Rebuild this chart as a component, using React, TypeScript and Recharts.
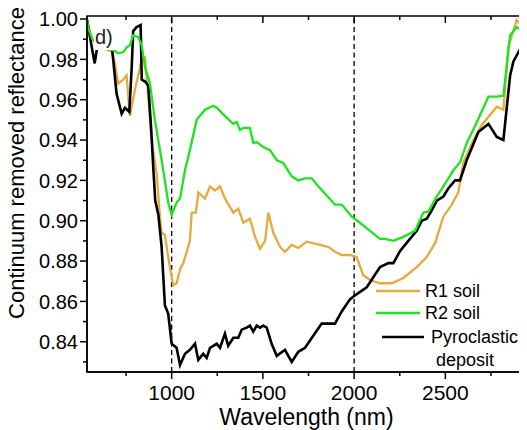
import React from 'react';
import { LineChart, Line, XAxis, YAxis, ReferenceLine, ReferenceArea } from 'recharts';

const SERIES_NAMES = ['R1 soil', 'R2 soil', 'Pyroclastic deposit'];
const SERIES_COLORS = ['#E6A93C', '#1EE41E', '#000000'];

const R1_NM = [535, 560, 600, 640, 671, 689, 707, 735, 753, 771, 799, 836, 854, 872, 890, 918, 936, 945, 963, 981, 1000, 1009, 1027, 1046, 1064, 1100, 1110, 1133, 1146, 1183, 1210, 1237, 1265, 1292, 1338, 1365, 1393, 1429, 1457, 1484, 1512, 1530, 1557, 1594, 1621, 1658, 1694, 1740, 1813, 1859, 1895, 1932, 1977, 2014, 2050, 2087, 2142, 2206, 2270, 2343, 2398, 2444, 2489, 2535, 2571, 2599, 2654, 2700, 2782, 2818, 2845, 2891, 2928, 2946];
const R1_VAL = [1.0, 0.991, 0.986, 0.985, 0.984, 0.978, 0.968, 0.970, 0.972, 0.952, 0.965, 0.980, 0.981, 0.961, 0.940, 0.923, 0.902, 0.894, 0.893, 0.882, 0.872, 0.868, 0.869, 0.876, 0.879, 0.890, 0.904, 0.904, 0.914, 0.911, 0.917, 0.915, 0.917, 0.911, 0.904, 0.906, 0.899, 0.901, 0.892, 0.886, 0.890, 0.904, 0.894, 0.887, 0.8846, 0.888, 0.8865, 0.8896, 0.888, 0.887, 0.8846, 0.883, 0.883, 0.882, 0.873, 0.8706, 0.869, 0.869, 0.8716, 0.877, 0.882, 0.889, 0.902, 0.908, 0.914, 0.929, 0.940, 0.9475, 0.9565, 0.955, 0.986, 0.9995, 0.996, 0.9937];

const R2_NM = [535, 545, 565, 610, 650, 680, 707, 735, 754, 771, 789, 817, 836, 854, 881, 908, 936, 954, 981, 1000, 1027, 1046, 1073, 1100, 1137, 1183, 1228, 1247, 1302, 1338, 1356, 1374, 1393, 1429, 1447, 1466, 1502, 1539, 1576, 1612, 1658, 1694, 1731, 1768, 1795, 1895, 1932, 1987, 2032, 2087, 2142, 2169, 2215, 2270, 2334, 2379, 2407, 2453, 2489, 2544, 2581, 2617, 2663, 2736, 2782, 2818, 2855, 2891, 2928, 2946];
const R2_VAL = [1.0, 0.995, 0.990, 0.986, 0.985, 0.9846, 0.983, 0.9836, 0.986, 0.987, 0.992, 0.991, 0.987, 0.976, 0.968, 0.950, 0.935, 0.925, 0.909, 0.903, 0.909, 0.911, 0.925, 0.935, 0.950, 0.955, 0.957, 0.956, 0.951, 0.948, 0.949, 0.945, 0.946, 0.946, 0.9385, 0.939, 0.9365, 0.935, 0.930, 0.9286, 0.922, 0.920, 0.921, 0.921, 0.918, 0.908, 0.908, 0.902, 0.899, 0.895, 0.891, 0.891, 0.890, 0.892, 0.895, 0.904, 0.9045, 0.912, 0.917, 0.925, 0.929, 0.9385, 0.947, 0.9615, 0.9615, 0.962, 0.992, 0.996, 0.9937, 0.996];

const PYRO_NM = [535, 578, 597, 640, 674, 698, 726, 744, 768, 781, 789, 808, 830, 836, 854, 872, 888, 900, 910, 927, 945, 963, 981, 1000, 1027, 1046, 1073, 1100, 1128, 1146, 1173, 1192, 1210, 1247, 1265, 1292, 1310, 1338, 1365, 1384, 1411, 1429, 1447, 1466, 1484, 1502, 1521, 1548, 1576, 1621, 1658, 1694, 1731, 1776, 1822, 1895, 1932, 1977, 2005, 2069, 2142, 2188, 2215, 2252, 2306, 2343, 2371, 2398, 2425, 2453, 2489, 2516, 2553, 2580, 2617, 2681, 2736, 2782, 2818, 2855, 2873, 2909, 2946];
const PYRO_VAL = [1.0, 0.978, 0.989, 0.989, 0.985, 0.963, 0.953, 0.956, 0.954, 0.976, 0.994, 0.996, 0.997, 0.970, 0.969, 0.967, 0.945, 0.925, 0.910, 0.903, 0.887, 0.858, 0.854, 0.839, 0.837, 0.8285, 0.834, 0.836, 0.839, 0.831, 0.834, 0.832, 0.837, 0.839, 0.837, 0.844, 0.838, 0.842, 0.842, 0.846, 0.847, 0.848, 0.845, 0.848, 0.847, 0.848, 0.847, 0.839, 0.833, 0.836, 0.830, 0.835, 0.837, 0.843, 0.849, 0.849, 0.855, 0.861, 0.863, 0.867, 0.877, 0.879, 0.879, 0.885, 0.891, 0.895, 0.900, 0.901, 0.905, 0.910, 0.912, 0.916, 0.920, 0.920, 0.930, 0.944, 0.948, 0.9415, 0.940, 0.972, 0.979, 0.985, 0.992];

const X_MAJOR = [1000, 1500, 2000, 2500];
const X_MINOR = [750, 1250, 1750, 2250, 2750];
const Y_MAJOR = [0.84, 0.86, 0.88, 0.90, 0.92, 0.94, 0.96, 0.98, 1.0];
const Y_MINOR = [0.83, 0.85, 0.87, 0.89, 0.91, 0.93, 0.95, 0.97, 0.99];
const DASHED_AT = [1000, 2000];
const X_DOMAIN = [536, 2942];
const Y_DOMAIN = [0.825, 1.0015];
const X_TITLE = 'Wavelength (nm)';
const Y_TITLE = 'Continuum removed reflectance';
const PANEL = 'd)';

const toRows = (nm: number[], v: number[]) => nm.map((n, i) => ({ nm: n, v: v[i] }));
const SERIES = [toRows(R1_NM, R1_VAL), toRows(R2_NM, R2_VAL), toRows(PYRO_NM, PYRO_VAL)];

const W = 519;
const H = 422;
const M = { top: 8, right: 1, bottom: 0, left: 0 };
const Y_AXIS_W = 79;
const X_AXIS_H = 58;
const PLOT_TOP = M.top;
const PLOT_RIGHT = W - M.right;
const FONT = '"Liberation Sans", Arial, sans-serif';

const X_TICKS = [...X_MAJOR, ...X_MINOR].sort((a, b) => a - b);
const Y_TICKS = [...Y_MAJOR, ...Y_MINOR].sort((a, b) => a - b);

const XTick = (props: any) => {
  const { x, y, payload } = props;
  const major = X_MAJOR.includes(payload.value);
  const len = major ? 7 : 4;
  return (
    <g>
      <line x1={x} x2={x} y1={y} y2={y + len} stroke="#000" strokeWidth={1.5} />
      <line x1={x} x2={x} y1={PLOT_TOP} y2={PLOT_TOP + len} stroke="#000" strokeWidth={1.5} />
      {major && (
        <text x={x} y={y + 13} dy="0.71em" textAnchor="middle" fontSize={21} fontFamily={FONT} fill="#000">
          {payload.value}
        </text>
      )}
    </g>
  );
};

const YTick = (props: any) => {
  const { x, y, payload } = props;
  const major = Y_MAJOR.some((m) => Math.abs(m - payload.value) < 1e-6);
  const len = major ? 7 : 4;
  return (
    <g>
      <line x1={x - len} x2={x} y1={y} y2={y} stroke="#000" strokeWidth={1.5} />
      <line x1={PLOT_RIGHT - len} x2={PLOT_RIGHT} y1={y} y2={y} stroke="#000" strokeWidth={1.5} />
      {major && (
        <text x={x - 9} y={y} dy="0.36em" textAnchor="end" fontSize={20} fontFamily={FONT} fill="#000">
          {Number(payload.value).toFixed(2)}
        </text>
      )}
    </g>
  );
};

export default function App() {
  return (
    <div style={{ position: 'relative', width: W, height: H }}>
      <LineChart width={W} height={H} margin={M}>
        <XAxis
          xAxisId="x"
          type="number"
          dataKey="nm"
          domain={X_DOMAIN}
          allowDataOverflow
          ticks={X_TICKS}
          interval={0}
          tickLine={false}
          tickSize={0}
          tickMargin={0}
          height={X_AXIS_H}
          axisLine={{ stroke: '#000', strokeWidth: 1.5 }}
          tick={(p: any) => <XTick {...p} />}
        />
        <YAxis
          yAxisId="y"
          type="number"
          domain={Y_DOMAIN}
          allowDataOverflow
          ticks={Y_TICKS}
          interval={0}
          tickLine={false}
          tickSize={0}
          tickMargin={0}
          width={Y_AXIS_W}
          axisLine={{ stroke: '#000', strokeWidth: 1.5 }}
          tick={(p: any) => <YTick {...p} />}
        />
        <ReferenceArea
          xAxisId="x"
          yAxisId="y"
          x1={X_DOMAIN[0]}
          x2={X_DOMAIN[1]}
          y1={Y_DOMAIN[0]}
          y2={Y_DOMAIN[1]}
          fill="none"
          fillOpacity={0}
          stroke="#000"
          strokeWidth={1.5}
          ifOverflow="visible"
        />
        {DASHED_AT.map((d) => (
          <ReferenceLine key={d} xAxisId="x" yAxisId="y" x={d} stroke="#000" strokeWidth={1.3} strokeDasharray="5 3.5" />
        ))}
        {[0, 2, 1].map((i) => (
          <Line
            key={SERIES_NAMES[i]}
            xAxisId="x"
            yAxisId="y"
            data={SERIES[i]}
            dataKey="v"
            name={SERIES_NAMES[i]}
            type="linear"
            stroke={SERIES_COLORS[i]}
            strokeWidth={i === 2 ? 2.6 : 2.3}
            dot={false}
            activeDot={false}
            isAnimationActive={false}
          />
        ))}
      </LineChart>
      <svg
        width={W}
        height={H}
        style={{ position: 'absolute', left: 0, top: 0, pointerEvents: 'none', overflow: 'visible' }}
      >
        <rect x={86} y={16} width={22} height={26} fill="#fff" />
        <text x={87} y={36} fontSize={20} fontFamily={FONT} fill="#222">{PANEL}</text>
        <text
          x={8}
          y={155}
          transform="rotate(-90, 8, 155)"
          textAnchor="middle"
          dy="0.36em"
          fontSize={22}
          fontFamily={FONT}
          fill="#000"
        >
          {Y_TITLE}
        </text>
        <text x={298.5} y={417} textAnchor="middle" fontSize={23} fontFamily={FONT} fill="#000">
          {X_TITLE}
        </text>
        <g transform="translate(362, 270)">
          <line x1={6} x2={50} y1={13} y2={13} stroke={SERIES_COLORS[0]} strokeWidth={2.3} />
          <text x={55} y={13} dy="0.36em" fontSize={18} fontFamily={FONT} fill="#000">{SERIES_NAMES[0]}</text>
          <line x1={6} x2={50} y1={35} y2={35} stroke={SERIES_COLORS[1]} strokeWidth={2.3} />
          <text x={55} y={35} dy="0.36em" fontSize={18} fontFamily={FONT} fill="#000">{SERIES_NAMES[1]}</text>
          <line x1={12} x2={54} y1={59} y2={59} stroke={SERIES_COLORS[2]} strokeWidth={2.6} />
          <text x={61} y={59} dy="0.36em" fontSize={18} fontFamily={FONT} fill="#000">{SERIES_NAMES[2].split(' ')[0]}</text>
          <text x={66} y={82} dy="0.36em" fontSize={18} fontFamily={FONT} fill="#000">{SERIES_NAMES[2].split(' ')[1]}</text>
        </g>
      </svg>
    </div>
  );
}
